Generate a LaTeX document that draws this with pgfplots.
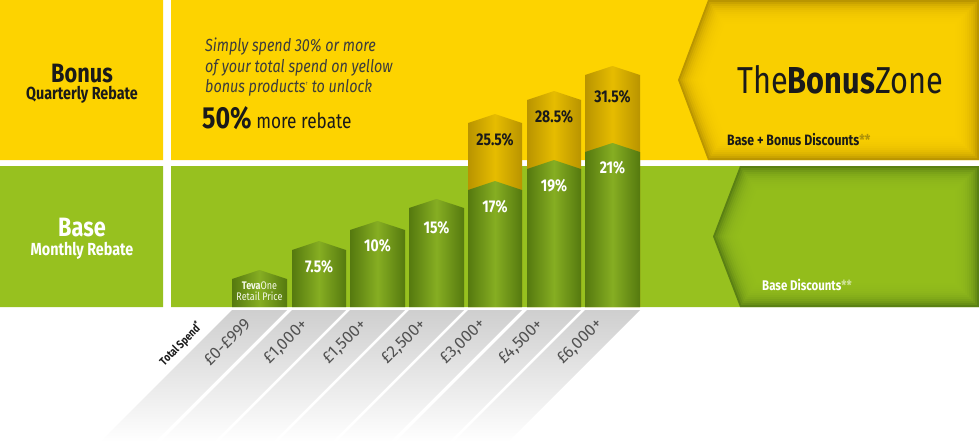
\documentclass[border=0pt]{standalone}
\usepackage{pgfplots}
\pgfplotsset{compat=1.18}
\usepackage{fontspec}
\setmainfont{Fira Sans}
\newfontfamily\cond[FakeStretch=0.82]{Fira Sans}
\definecolor{yel}{HTML}{FDD300}
\definecolor{yelD}{HTML}{BA9500}
\definecolor{grn}{HTML}{97C11F}
\definecolor{grnD}{HTML}{5A8013}
\definecolor{barG}{HTML}{86AE22}
\definecolor{barGD}{HTML}{55790F}
\definecolor{barY}{HTML}{E6BC00}
\definecolor{barYD}{HTML}{B99400}
\definecolor{ink}{HTML}{1A1A1A}
\pgfplotsset{ys/.style={fill=yel, fill opacity=0.24, draw=none}, gs/.style={fill=grn, fill opacity=0.24, draw=none}}
\begin{document}
\begin{tikzpicture}
\begin{axis}[scale only axis, width=979pt, height=442pt,
  xmin=0, xmax=979, ymin=0, ymax=442, y dir=reverse,
  axis lines=none, clip=false]
% background blocks
\addplot[fill=yel, draw=none] coordinates {(0,0) (163,0) (163,160) (0,160) (0,0)};
\addplot[fill=yel, draw=none] coordinates {(171,0) (979,0) (979,160) (171,160) (171,0)};
\addplot[fill=grn, draw=none] coordinates {(0,166) (163,166) (163,307) (0,307) (0,166)};
\addplot[fill=grn, draw=none] coordinates {(171,166) (979,166) (979,307) (171,307) (171,166)};
% arrow panel: yellow with inner shadow
\addplot[fill=yelD, draw=none] coordinates {(708,0) (979,0) (979,160) (708,160) (678,80) (708,0)};
\addplot[ys] coordinates {(709.4,2) (977,2) (977,158) (709.4,158) (680.1,80)};
\addplot[ys] coordinates {(710.8,4) (975,4) (975,156) (710.8,156) (682.3,80)};
\addplot[ys] coordinates {(712.2,6) (973,6) (973,154) (712.2,154) (684.4,80)};
\addplot[ys] coordinates {(713.6,8) (971,8) (971,152) (713.6,152) (686.6,80)};
\addplot[ys] coordinates {(715.0,10) (969,10) (969,150) (715.0,150) (688.7,80)};
\addplot[ys] coordinates {(716.3,12) (967,12) (967,148) (716.3,148) (690.8,80)};
\addplot[ys] coordinates {(717.7,14) (965,14) (965,146) (717.7,146) (693.0,80)};
\addplot[ys] coordinates {(719.1,16) (963,16) (963,144) (719.1,144) (695.1,80)};
\addplot[ys] coordinates {(720.5,18) (961,18) (961,142) (720.5,142) (697.3,80)};
\addplot[ys] coordinates {(721.9,20) (959,20) (959,140) (721.9,140) (699.4,80)};
\addplot[ys] coordinates {(723.3,22) (957,22) (957,138) (723.3,138) (701.5,80)};
\addplot[ys] coordinates {(724.7,24) (955,24) (955,136) (724.7,136) (703.7,80)};
% arrow panel: green with inner shadow
\addplot[fill=grnD, draw=none] coordinates {(740,166) (979,166) (979,307) (740,307) (713,236.5) (740,166)};
\addplot[gs] coordinates {(741.4,168) (977,168) (977,305) (741.4,305) (715.1,236.5)};
\addplot[gs] coordinates {(742.8,170) (975,170) (975,303) (742.8,303) (717.3,236.5)};
\addplot[gs] coordinates {(744.1,172) (973,172) (973,301) (744.1,301) (719.4,236.5)};
\addplot[gs] coordinates {(745.5,174) (971,174) (971,299) (745.5,299) (721.6,236.5)};
\addplot[gs] coordinates {(746.9,176) (969,176) (969,297) (746.9,297) (723.7,236.5)};
\addplot[gs] coordinates {(748.3,178) (967,178) (967,295) (748.3,295) (725.8,236.5)};
\addplot[gs] coordinates {(749.7,180) (965,180) (965,293) (749.7,293) (728.0,236.5)};
\addplot[gs] coordinates {(751.0,182) (963,182) (963,291) (751.0,291) (730.1,236.5)};
\addplot[gs] coordinates {(752.4,184) (961,184) (961,289) (752.4,289) (732.3,236.5)};
\addplot[gs] coordinates {(753.8,186) (959,186) (959,287) (753.8,287) (734.4,236.5)};
\addplot[gs] coordinates {(755.2,188) (957,188) (957,285) (755.2,285) (736.5,236.5)};
\addplot[gs] coordinates {(756.6,190) (955,190) (955,283) (756.6,283) (738.7,236.5)};
% stripes
\addplot[draw=none, top color=black!19, bottom color=white] coordinates {(232,310) (287,310) (155,442) (100,442) (232,310)};
\addplot[draw=none, top color=black!19, bottom color=white] coordinates {(292,310) (346,310) (214,442) (160,442) (292,310)};
\addplot[draw=none, top color=black!19, bottom color=white] coordinates {(350,310) (405,310) (273,442) (218,442) (350,310)};
\addplot[draw=none, top color=black!19, bottom color=white] coordinates {(409,310) (464,310) (332,442) (277,442) (409,310)};
\addplot[draw=none, top color=black!19, bottom color=white] coordinates {(468,310) (522,310) (390,442) (336,442) (468,310)};
\addplot[draw=none, top color=black!19, bottom color=white] coordinates {(527,310) (581,310) (449,442) (395,442) (527,310)};
\addplot[draw=none, top color=black!19, bottom color=white] coordinates {(585,310) (640,310) (508,442) (453,442) (585,310)};
% yellow bonus caps: 25.5%, 28.5%, 31.5%
\addplot[draw=none, left color=barYD, right color=barYD, middle color=barY] coordinates {(468,307) (468,123) (495,114) (522,123) (522,307) (468,307)};
\addplot[draw=none, left color=barYD, right color=barYD, middle color=barY] coordinates {(527,307) (527,100) (554,91) (581,100) (581,307) (527,307)};
\addplot[draw=none, left color=barYD, right color=barYD, middle color=barY] coordinates {(585,307) (585,75) (612.5,66) (640,75) (640,307) (585,307)};
% green base bars: retail, 7.5, 10, 15, 17, 19, 21
\addplot[draw=none, left color=barGD, right color=barGD, middle color=barG] coordinates {(232,307) (232,279) (259.5,270) (287,279) (287,307) (232,307)};
\addplot[draw=none, left color=barGD, right color=barGD, middle color=barG] coordinates {(292,307) (292,250) (319,241) (346,250) (346,307) (292,307)};
\addplot[draw=none, left color=barGD, right color=barGD, middle color=barG] coordinates {(350,307) (350,230) (377.5,221) (405,230) (405,307) (350,307)};
\addplot[draw=none, left color=barGD, right color=barGD, middle color=barG] coordinates {(409,307) (409,208) (436.5,199) (464,208) (464,307) (409,307)};
\addplot[draw=none, left color=barGD, right color=barGD, middle color=barG] coordinates {(468,307) (468,190) (495,181) (522,190) (522,307) (468,307)};
\addplot[draw=none, left color=barGD, right color=barGD, middle color=barG] coordinates {(527,307) (527,169) (554,160) (581,169) (581,307) (527,307)};
\addplot[draw=none, left color=barGD, right color=barGD, middle color=barG] coordinates {(585,307) (585,152) (612.5,143) (640,152) (640,307) (585,307)};
% left block texts
\node[font=\cond\bfseries\fontsize{26.5}{26}\selectfont, text=ink, anchor=base] at (82,82) {Bonus};
\node[font=\cond\fontsize{17.5}{17}\selectfont\bfseries, text=ink, anchor=base] at (82,99) {Quarterly Rebate};
\node[font=\cond\bfseries\fontsize{26.5}{26}\selectfont, text=white, anchor=base] at (82,236) {Base};
\node[font=\cond\fontsize{17.5}{17}\selectfont\bfseries, text=white, anchor=base] at (82,255) {Monthly Rebate};
% italic text
\node[font=\cond\itshape\fontsize{17.5}{17}\selectfont, text=ink!85, anchor=base west, inner sep=0pt] at (205,51) {Simply spend 30\% or more};
\node[font=\cond\itshape\fontsize{17.5}{17}\selectfont, text=ink!85, anchor=base west, inner sep=0pt] at (205,72) {of your total spend on yellow};
\node[font=\cond\itshape\fontsize{17.5}{17}\selectfont, text=ink!85, anchor=base west, inner sep=0pt] at (205,92) {bonus products\textsuperscript{\tiny\textdagger} to unlock};
\node[font=\cond\fontsize{21}{21}\selectfont, text=ink, anchor=base west, inner sep=0pt] at (202,128) {{\bfseries\fontsize{30.5}{30}\selectfont 50\%} more rebate};
% bonus zone
\node[font=\cond\fontsize{37.5}{37}\selectfont, text=ink, anchor=base west, inner sep=0pt] at (737,93) {The{\bfseries Bonus}Zone};
\node[font=\cond\bfseries\fontsize{15}{15}\selectfont, text=ink, anchor=base west, inner sep=0pt] at (727,145) {Base + Bonus Discounts\textcolor{ink!35!yel}{**}};
\node[font=\cond\bfseries\fontsize{14}{14}\selectfont, text=white, anchor=base west, inner sep=0pt] at (762,290) {Base Discounts\textcolor{grn!45!white}{**}};
% bar labels
\node[font=\cond\fontsize{11}{11}\selectfont, text=white!90!grn, align=center, inner sep=0pt] at (259.5,291) {{\bfseries Teva}One\\Retail Price};
\node[font=\cond\bfseries\fontsize{17}{17}\selectfont, text=white] at (319,267) {7.5\%};
\node[font=\cond\bfseries\fontsize{17}{17}\selectfont, text=white] at (377.5,246) {10\%};
\node[font=\cond\bfseries\fontsize{17}{17}\selectfont, text=white] at (436.5,228) {15\%};
\node[font=\cond\bfseries\fontsize{17}{17}\selectfont, text=white] at (495,207) {17\%};
\node[font=\cond\bfseries\fontsize{17}{17}\selectfont, text=white] at (554,186) {19\%};
\node[font=\cond\bfseries\fontsize{17}{17}\selectfont, text=white] at (612.5,168) {21\%};
\node[font=\cond\bfseries\fontsize{17}{17}\selectfont, text=ink] at (495,140) {25.5\%};
\node[font=\cond\bfseries\fontsize{17}{17}\selectfont, text=ink] at (554,117) {28.5\%};
\node[font=\cond\bfseries\fontsize{17}{17}\selectfont, text=ink] at (612.5,97) {31.5\%};
% spend labels
\node[font=\cond\bfseries\fontsize{11.5}{11}\selectfont, text=ink, rotate=45] at (181,344) {Total Spend\textsuperscript{*}};
\node[font=\fontsize{16.5}{16}\selectfont, text=black!68, rotate=45] at (227,342) {£0-£999};
\node[font=\fontsize{16.5}{16}\selectfont, text=black!68, rotate=45] at (286,342) {£1,000+};
\node[font=\fontsize{16.5}{16}\selectfont, text=black!68, rotate=45] at (345,342) {£1,500+};
\node[font=\fontsize{16.5}{16}\selectfont, text=black!68, rotate=45] at (404,342) {£2,500+};
\node[font=\fontsize{16.5}{16}\selectfont, text=black!68, rotate=45] at (463,342) {£3,000+};
\node[font=\fontsize{16.5}{16}\selectfont, text=black!68, rotate=45] at (521,342) {£4,500+};
\node[font=\fontsize{16.5}{16}\selectfont, text=black!68, rotate=45] at (580,342) {£6,000+};
\end{axis}
\end{tikzpicture}
\end{document}
